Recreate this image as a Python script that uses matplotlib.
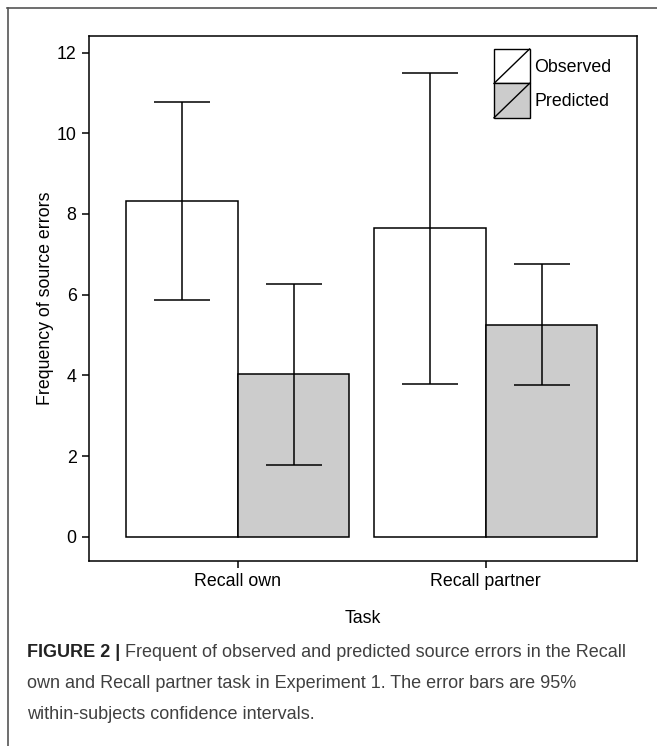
import numpy as np
import matplotlib
matplotlib.use('Agg')
import matplotlib.pyplot as plt
from matplotlib.patches import Rectangle
from matplotlib.lines import Line2D
from matplotlib.legend_handler import HandlerBase

plt.rcParams['font.family'] = ['Liberation Sans', 'DejaVu Sans']

tasks = ['Recall own', 'Recall partner']
series = ['Observed', 'Predicted']
observed = [8.33, 7.65]
observed_lo = [5.87, 3.78]
observed_hi = [10.78, 11.50]
predicted = [4.03, 5.25]
predicted_lo = [1.78, 3.75]
predicted_hi = [6.27, 6.75]
yticks = [0, 2, 4, 6, 8, 10, 12]

caption_bold = 'FIGURE 2 |'
caption_lines = [' Frequent of observed and predicted source errors in the Recall',
                 'own and Recall partner task in Experiment 1. The error bars are 95%',
                 'within-subjects confidence intervals.']


class BoxDiag(HandlerBase):
    # square legend key with a diagonal line, like the R output
    def create_artists(self, legend, orig_handle, xdescent, ydescent,
                       width, height, fontsize, trans):
        r = Rectangle((-xdescent, -ydescent), width, height,
                      facecolor=orig_handle.get_facecolor(), edgecolor='black',
                      lw=1.0, transform=trans)
        l = Line2D([-xdescent, -xdescent + width], [-ydescent, -ydescent + height],
                   color='black', lw=1.0, transform=trans)
        return [r, l]


W, H, DPI = 657, 746, 100
fig = plt.figure(figsize=(W / DPI, H / DPI), dpi=DPI)
FS = 12.8

# axes box in pixels: left 89, right 637, top 36, bottom 561
ax = fig.add_axes([89 / W, 1 - 561 / H, (637 - 89) / W, (561 - 36) / H])

x = np.arange(1, len(tasks) + 1)
bw = 0.45
obs_err = [np.subtract(observed, observed_lo), np.subtract(observed_hi, observed)]
pred_err = [np.subtract(predicted, predicted_lo), np.subtract(predicted_hi, predicted)]

b1 = ax.bar(x - bw / 2, observed, bw, color='white', edgecolor='black', lw=1.1,
            label=series[0], zorder=2)
b2 = ax.bar(x + bw / 2, predicted, bw, color='#cccccc', edgecolor='black', lw=1.1,
            label=series[1], zorder=2)
ax.errorbar(x - bw / 2, observed, yerr=obs_err, fmt='none', ecolor='black',
            elinewidth=1.1, capsize=20, capthick=1.1, zorder=3)
ax.errorbar(x + bw / 2, predicted, yerr=pred_err, fmt='none', ecolor='black',
            elinewidth=1.1, capsize=20, capthick=1.1, zorder=3)

ax.set_xlim(0.4, 2.61)
ax.set_ylim(-0.6, 12.41)
ax.set_xticks(x)
ax.set_xticklabels(tasks)
ax.set_yticks(yticks)
ax.tick_params(direction='out', length=5, width=1.1, labelsize=FS, pad=4)
for s in ax.spines.values():
    s.set_linewidth(1.1)

ax.set_xlabel('Task', fontsize=FS, labelpad=14)
ax.set_ylabel('Frequency of source errors', fontsize=FS, labelpad=2)

h1, h2 = b1.patches[0], b2.patches[0]
# handleheight chosen so that each key is ~35 px tall
ax.legend(handles=[h1, h2], labels=series, handler_map={h1: BoxDiag(), h2: BoxDiag()},
          loc='upper left', bbox_to_anchor=((494 - 89) / 548, (561 - 49) / 525),
          frameon=False, borderpad=0, borderaxespad=0, handlelength=2.0,
          handleheight=2.6, handletextpad=0.25, labelspacing=0, fontsize=FS)

# outer frame (top and left only)
fig.add_artist(Line2D([7 / W, 1], [1 - 8 / H, 1 - 8 / H], color='#555555', lw=1.2))
fig.add_artist(Line2D([8 / W, 8 / W], [1 - 8 / H, 0], color='#555555', lw=1.2))

# caption
CFS = 13.0
t = fig.text(27 / W, 1 - 657 / H, caption_bold, fontsize=CFS, fontweight='bold',
             color='#222222', va='baseline')
ax.annotate(caption_lines[0], xy=(1, 0), xycoords=t, va='bottom', fontsize=CFS,
            color='#404040')
fig.text(27 / W, 1 - 688 / H, caption_lines[1], fontsize=CFS, color='#404040',
         va='baseline')
fig.text(27 / W, 1 - 719 / H, caption_lines[2], fontsize=CFS, color='#404040',
         va='baseline')

plt.savefig('out.png', dpi=DPI)
